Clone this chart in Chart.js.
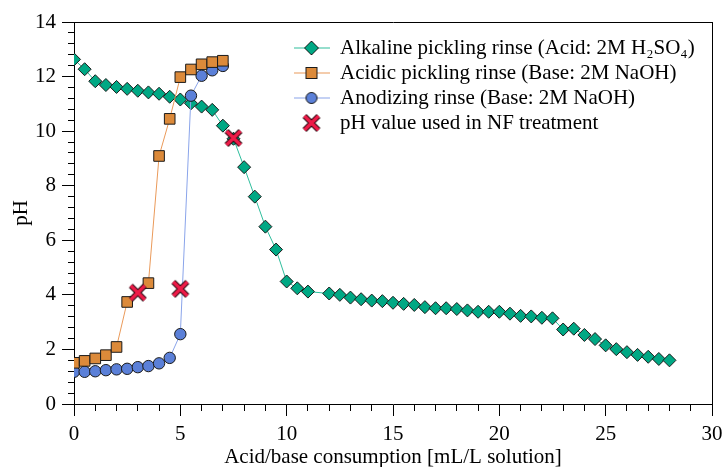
<!DOCTYPE html>
<html>
<head>
<meta charset="utf-8">
<script src="https://cdn.jsdelivr.net/npm/chart.js@4.4.1/dist/chart.umd.min.js"></script>
<style>
  body { margin: 0; background: #fff; }
</style>
</head>
<body>
<canvas id="myChart" width="722" height="467"></canvas>
<script>

// Alkaline pickling rinse (titrated with acid)
var alkalineX = [0, 0.5, 1, 1.5, 2, 2.5, 3, 3.5, 4, 4.5, 5, 5.5, 6, 6.5, 7, 7.5, 8, 8.5, 9, 9.5, 10, 10.5, 11,
                 12, 12.5, 13, 13.5, 14, 14.5, 15, 15.5, 16, 16.5, 17, 17.5, 18, 18.5, 19, 19.5, 20, 20.5,
                 21, 21.5, 22, 22.5, 23, 23.5, 24, 24.5, 25, 25.5, 26, 26.5, 27, 27.5, 28];
var alkalinePH = [12.63, 12.27, 11.83, 11.69, 11.62, 11.55, 11.48, 11.42, 11.37, 11.26, 11.16, 11.02, 10.9, 10.78,
                  10.2, 9.72, 8.68, 7.6, 6.5, 5.66, 4.49, 4.24, 4.12,
                  4.05, 4.0, 3.9, 3.84, 3.79, 3.77, 3.71, 3.67, 3.63, 3.55, 3.51, 3.51, 3.48, 3.43, 3.38, 3.38, 3.38, 3.31,
                  3.23, 3.21, 3.16, 3.14, 2.73, 2.76, 2.53, 2.38, 2.15, 2.01, 1.9, 1.8, 1.73, 1.65, 1.6];

// Acidic pickling rinse (titrated with base)
var acidicX = [0, 0.5, 1, 1.5, 2, 2.5, 3.5, 4, 4.5, 5, 5.5, 6, 6.5, 7];
var acidicPH = [1.51, 1.58, 1.67, 1.79, 2.09, 3.74, 4.43, 9.09, 10.45, 11.98, 12.26, 12.45, 12.53, 12.58];

// Anodizing rinse (titrated with base)
var anodX = [0, 0.5, 1, 1.5, 2, 2.5, 3, 3.5, 4, 4.5, 5, 5.5, 6, 6.5, 7];
var anodPH = [1.18, 1.18, 1.2, 1.24, 1.27, 1.29, 1.35, 1.39, 1.49, 1.69, 2.56, 11.3, 12.03, 12.23, 12.39];

// pH picked for the NF treatment
var nfX = [3, 5, 7.5];
var nfPH = [4.08, 4.22, 9.75];

// axis tick labels
var xMajorTicks = [0, 5, 10, 15, 20, 25, 30];
var yMajorTicks = [0, 2, 4, 6, 8, 10, 12, 14];

var labels = [
  'Alkaline pickling rinse (Acid: 2M H\u2082SO\u2084)',
  'Acidic pickling rinse (Base: 2M NaOH)',
  'Anodizing rinse (Base: 2M NaOH)',
  'pH value used in NF treatment'
];

function toPoints(xs, ys) {
  return xs.map(function (x, i) { return { x: x, y: ys[i] }; });
}

function isMajor(v, list) {
  return list.some(function (m) { return Math.abs(m - v) < 1e-6; });
}

//marker drawing for the legend icons and the red cross
function diamond(g, x, y) {
  g.beginPath();
  g.moveTo(x, y - 7); g.lineTo(x + 7, y); g.lineTo(x, y + 7); g.lineTo(x - 7, y);
  g.closePath();
  g.fillStyle = '#00a884'; g.fill();
  g.lineWidth = 1; g.strokeStyle = '#1a1a1a'; g.stroke();
}
function square(g, x, y) {
  g.fillStyle = '#dc8a3a';
  g.fillRect(x - 5.5, y - 5.5, 11, 11);
  g.lineWidth = 1; g.strokeStyle = '#1a1a1a';
  g.strokeRect(x - 5.5, y - 5.5, 11, 11);
}
function circle(g, x, y) {
  g.beginPath();
  g.arc(x, y, 5.5, 0, Math.PI * 2);
  g.fillStyle = '#5b80d8'; g.fill();
  g.lineWidth = 1; g.strokeStyle = '#1a1a1a'; g.stroke();
}
function cross(g, x, y) {
  var d = 7;
  g.lineCap = 'butt';
  [['#2a0a10', 5.5], ['#ee1b48', 3.5]].forEach(function (s) {
    g.strokeStyle = s[0]; g.lineWidth = s[1];
    g.beginPath();
    g.moveTo(x - d, y - d); g.lineTo(x + d, y + d);
    g.moveTo(x + d, y - d); g.lineTo(x - d, y + d);
    g.stroke();
  });
}

function makeIcon(w, h, lineColor, marker) {
  var c = document.createElement('canvas');
  c.width = w; c.height = h;
  var g = c.getContext('2d');
  if (lineColor) {
    g.strokeStyle = lineColor; g.lineWidth = 1.2;
    g.beginPath(); g.moveTo(0, h / 2); g.lineTo(w, h / 2); g.stroke();
  }
  marker(g, w / 2, h / 2);
  return c;
}

var crossPoint = makeIcon(20, 20, null, cross);
var legendIcons = [
  makeIcon(36, 18, '#2ebd9c', diamond),
  makeIcon(36, 18, '#ea9a5a', square),
  makeIcon(36, 18, '#8aa4ea', circle),
  makeIcon(36, 18, null, cross)
];

var serif = 'Liberation Serif, Times New Roman, serif';
var fontSize = 21;
Chart.defaults.color = '#000';
Chart.defaults.font.family = serif;
Chart.defaults.font.size = fontSize;

// put the legend inside the plot, top right
var legendInside = {
  id: 'legendInside',
  afterLayout: function (chart) {
    var lg = chart.legend;
    var w = lg.width;
    lg.left = chart.chartArea.left + 215.5;
    lg.right = lg.left + w;
    lg.top = chart.chartArea.top + 11.5;
  }
};

function frameAxis(pos) {
  return {
    type: 'linear',
    position: pos,
    min: 0,
    max: pos === 'top' ? 30 : 14,
    ticks: { display: false },
    grid: { display: false, drawTicks: false },
    border: { display: true, color: '#000', width: 1 },
    afterFit: function (s) {
      if (pos === 'top') s.height = 0; else s.width = 0;
      s.paddingLeft = s.paddingRight = s.paddingTop = s.paddingBottom = 0;
    }
  };
}

var ctx = document.getElementById('myChart').getContext('2d');
var myChart = new Chart(ctx, {
  type: 'line',
  data: {
    datasets: [{
      label: labels[0],
      data: toPoints(alkalineX, alkalinePH),
      borderColor: '#2ebd9c',
      borderWidth: 1,
      pointStyle: 'rectRot',
      pointRadius: 6.5,
      pointBackgroundColor: '#00a884',
      pointBorderColor: '#1a1a1a',
      pointBorderWidth: 1,
      order: 3
    }, {
      label: labels[1],
      data: toPoints(acidicX, acidicPH),
      borderColor: '#ea9a5a',
      borderWidth: 1,
      pointStyle: 'rect',
      pointRadius: 7.5,
      pointBackgroundColor: '#dc8a3a',
      pointBorderColor: '#1a1a1a',
      pointBorderWidth: 1,
      order: 1
    }, {
      label: labels[2],
      data: toPoints(anodX, anodPH),
      borderColor: '#8aa4ea',
      borderWidth: 1,
      pointStyle: 'circle',
      pointRadius: 5.7,
      pointBackgroundColor: '#5b80d8',
      pointBorderColor: '#1a1a1a',
      pointBorderWidth: 1,
      order: 2
    }, {
      label: labels[3],
      data: toPoints(nfX, nfPH),
      showLine: false,
      pointStyle: crossPoint,
      pointRadius: 8,
      borderColor: '#ee1b48',
      backgroundColor: '#ee1b48',
      order: 0
    }]
  },
  options: {
    responsive: false,
    animation: false,
    layout: { padding: { top: 22, right: 10, left: 0, bottom: 0 } },
    plugins: {
      tooltip: { enabled: false },
      legend: {
        position: 'chartArea',
        align: 'start',
        labels: {
          usePointStyle: true,
          pointStyleWidth: 36,
          padding: 4,
          font: { family: serif, size: fontSize },
          color: '#000',
          generateLabels: function (chart) {
            var items = Chart.defaults.plugins.legend.labels.generateLabels(chart);
            items.forEach(function (it) { it.pointStyle = legendIcons[it.datasetIndex]; });
            return items;
          },
          sort: function (a, b) { return a.datasetIndex - b.datasetIndex; }
        }
      }
    },
    scales: {
      x: {
        type: 'linear',
        position: 'bottom',
        min: 0,
        max: 30,
        ticks: {
          stepSize: 1,
          autoSkip: false,
          maxTicksLimit: 100,
          maxRotation: 0,
          padding: 6,
          font: { family: serif, size: fontSize },
          callback: function (v) { return isMajor(v, xMajorTicks) ? v : ''; }
        },
        grid: {
          drawOnChartArea: false,
          drawTicks: true,
          tickLength: 12,
          tickColor: '#000',
          tickBorderDash: function (c) { return isMajor(c.tick.value, xMajorTicks) ? [] : [6, 30]; }
        },
        border: { display: true, color: '#000', width: 1 },
        title: {
          display: true,
          text: 'Acid/base consumption [mL/L solution]',
          font: { family: serif, size: fontSize },
          padding: { top: 0, bottom: -3 }
        },
        afterFit: function (s) {
          s.height = 63;
          s.paddingLeft = s.paddingRight = 0;
        }
      },
      y: {
        type: 'linear',
        position: 'left',
        min: 0,
        max: 14,
        ticks: {
          stepSize: 0.4,
          autoSkip: false,
          maxTicksLimit: 100,
          padding: 6,
          font: { family: serif, size: fontSize },
          callback: function (v) { return isMajor(v, yMajorTicks) ? Math.round(v) : ''; }
        },
        grid: {
          drawOnChartArea: false,
          drawTicks: true,
          tickLength: 12,
          tickColor: '#000',
          tickBorderDash: function (c) { return isMajor(c.tick.value, yMajorTicks) ? [] : [0, 6, 6, 30]; }
        },
        border: { display: true, color: '#000', width: 1 },
        title: {
          display: true,
          text: 'pH',
          font: { family: serif, size: fontSize },
          padding: { top: 9, bottom: 0 }
        },
        afterFit: function (s) {
          s.width = 74;
          s.paddingTop = s.paddingBottom = 0;
        }
      },
      xTop: frameAxis('top'),
      yRight: frameAxis('right')
    }
  },
  plugins: [legendInside]
});
</script>
</body>
</html>
